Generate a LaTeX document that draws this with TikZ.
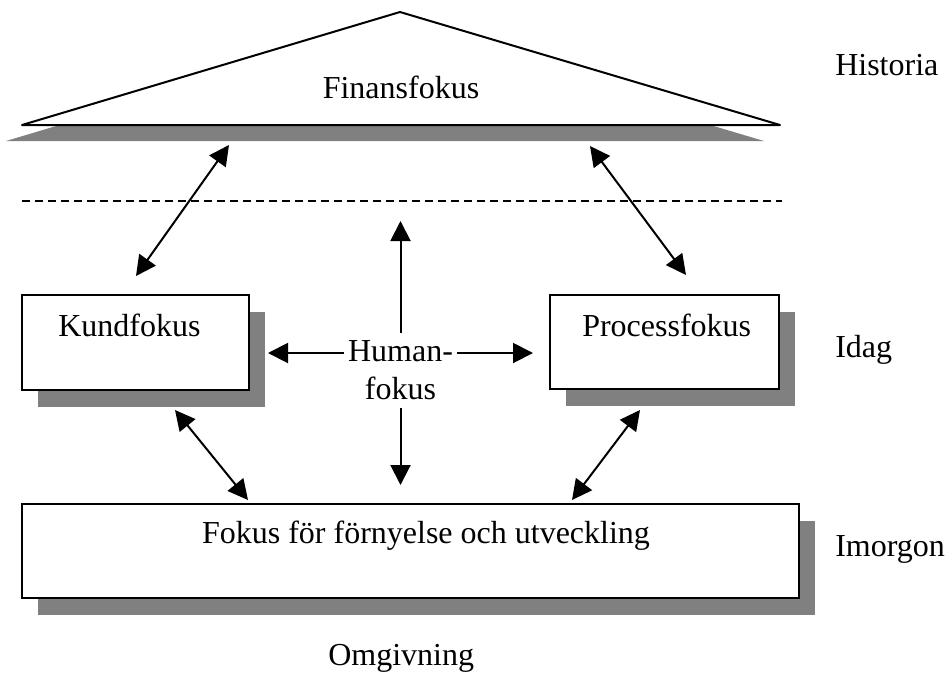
\documentclass[tikz,border=0pt]{standalone}
\usepackage{fontspec}
\setmainfont{Liberation Serif}
\usetikzlibrary{arrows.meta,shadows}
\begin{document}
\begin{tikzpicture}[x=0.75pt,y=-0.75pt,
  every node/.style={font=\fontsize{24pt}{28.5pt}\selectfont, inner sep=0pt},
  frame/.style={draw=black, line width=1.5pt, fill=white},
  shade/.style={fill=black!50, draw=none},
  shadowbox/.style={frame, drop shadow={shadow xshift=12pt, shadow yshift=-12.75pt, fill=black!50, opacity=1}},
  tip/.style={Triangle[length=15pt,width=15pt]},
  biarrow/.style={line width=1.5pt, {Triangle[length=15pt,width=15pt]}-{Triangle[length=15pt,width=15pt]}},
  onearrow/.style={line width=1.5pt, -{Triangle[length=15pt,width=15pt]}},
]
\useasboundingbox (0,0) rectangle (946,683);

% roof: finance perspective
\fill[shade] (6,141) -- (384,28) -- (764,141) -- cycle;
\draw[frame, line join=round] (22,125) coordinate (roofL) -- (400,12) coordinate (roofTop) -- (780,125) coordinate (roofR) -- cycle;
\node[anchor=base] (finans) at (401,98) {Finansfokus};

% dashed divider
\coordinate (dl) at (22,201);
\coordinate (dr) at (782,201);
\draw[line width=1.5pt, dash pattern=on 6pt off 3.75pt] (dl) -- (dr);

% boxes
\node[shadowbox, minimum width=170.25pt, minimum height=71.25pt] (kund) at (135.5,342.5) {};
\node[shadowbox, minimum width=171.75pt, minimum height=70.5pt] (proc) at (664.5,342) {};
\node[shadowbox, minimum width=582.75pt, minimum height=70.5pt] (fornyelse) at (410.5,551) {};

\node[anchor=base west] (kundtxt) at (58,336) {Kundfokus};
\node[anchor=base west] (proctxt) at (582,336) {Processfokus};
\node[anchor=base] (forntxt) at (426,543) {Fokus för förnyelse och utveckling};

% centre: human perspective
\node[align=center, minimum width=84.75pt, minimum height=56.25pt] (human) at (400.5,370.5) {Human-\\fokus};

\coordinate (hup) at (400.5,221);
\coordinate (hdown) at (400.5,485);
\coordinate (hleft) at (268,353);
\coordinate (hright) at (533,353);
\draw[onearrow] (human.north) -- (hup);
\draw[onearrow] (human.south) -- (hdown);
\draw[onearrow] (human.west |- hleft) -- (hleft);
\draw[onearrow] (human.east |- hright) -- (hright);

% links between the perspectives
\coordinate (tlA) at (229,145);
\coordinate (tlB) at (136,276);
\coordinate (trA) at (590,146);
\coordinate (trB) at (686,275);
\coordinate (blA) at (175,410);
\coordinate (blB) at (248,500);
\coordinate (brA) at (640,410);
\coordinate (brB) at (572,500);
\draw[biarrow] (tlA) -- (tlB);
\draw[biarrow] (trA) -- (trB);
\draw[biarrow] (blA) -- (blB);
\draw[biarrow] (brA) -- (brB);

% time labels
\node[anchor=base west] (historia) at (835,75) {Historia};
\node[anchor=base west] (idag) at (835,357) {Idag};
\node[anchor=base west] (imorgon) at (835,556) {Imorgon};
\node[anchor=base west] (omgivning) at (328,665) {Omgivning};
\end{tikzpicture}
\end{document}
